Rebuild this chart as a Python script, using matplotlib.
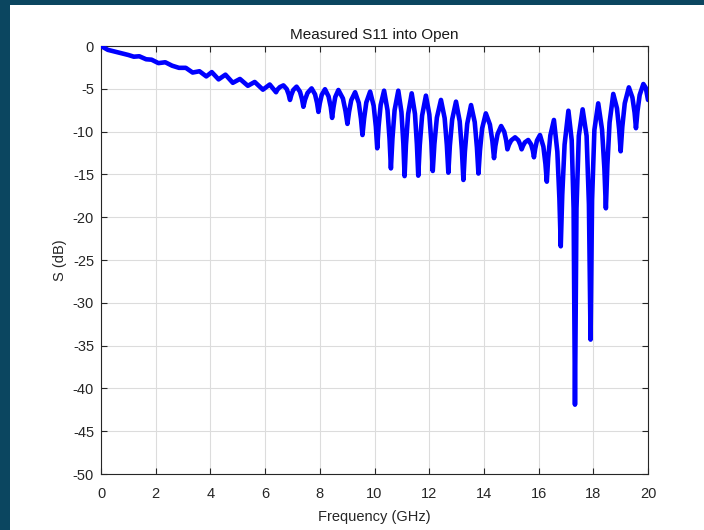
import matplotlib
matplotlib.use("Agg")
import matplotlib.pyplot as plt
from matplotlib.patches import Rectangle

freq_ghz = [0.0, 0.25, 0.5, 0.75, 1.0, 1.2, 1.4, 1.65, 1.85, 2.1, 2.35, 2.6, 2.85, 3.1,
            3.35, 3.6, 3.85, 4.05, 4.3, 4.55, 4.82, 5.08, 5.37, 5.62, 5.92, 6.17,
            6.4, 6.45, 6.54, 6.67, 6.79, 6.86,
            6.91, 6.96, 7.03, 7.15, 7.275, 7.35,
            7.4, 7.46, 7.55, 7.7, 7.825, 7.9,
            7.95, 8.0, 8.07, 8.19, 8.32, 8.4,
            8.45, 8.5, 8.565, 8.68, 8.845, 8.94,
            9.01, 9.07, 9.15, 9.29, 9.425, 9.505,
            9.56, 9.62, 9.7, 9.84, 9.97, 10.05,
            10.1, 10.15, 10.225, 10.35, 10.475, 10.55,
            10.6, 10.655, 10.735, 10.87, 10.985, 11.055,
            11.1, 11.15, 11.23, 11.36, 11.48, 11.55,
            11.6, 11.655, 11.74, 11.88, 12.005, 12.08,
            12.13, 12.19, 12.28, 12.43, 12.565, 12.645,
            12.7, 12.755, 12.84, 12.98, 13.115, 13.195,
            13.25, 13.305, 13.39, 13.53, 13.665, 13.745,
            13.8, 13.855, 13.935, 14.07, 14.22, 14.31,
            14.37, 14.42, 14.5, 14.63, 14.745, 14.815,
            14.86, 14.915, 15.0, 15.14, 15.26, 15.33,
            15.38, 15.43, 15.5, 15.62, 15.725, 15.79,
            15.83, 15.875, 15.94, 16.05, 16.175, 16.25,
            16.3, 16.35, 16.43, 16.56, 16.685, 16.76,
            16.81, 16.865, 16.95, 17.09, 17.21, 17.28,
            17.33, 17.385, 17.47, 17.61, 17.755, 17.84,
            17.9, 17.955, 18.04, 18.18, 18.32, 18.405,
            18.46, 18.515, 18.595, 18.73, 18.865, 18.945,
            19.0, 19.06, 19.15, 19.3, 19.43, 19.51,
            19.56, 19.615, 19.695, 19.83, 19.92, 20.0]
s11_db = [0.0, -0.45, -0.65, -0.85, -1.05, -1.25, -1.2, -1.55, -1.6, -2.0, -1.9, -2.3,
          -2.55, -2.55, -3.1, -2.95, -3.55, -3.05, -3.9, -3.35, -4.3, -3.85, -4.65, -4.2,
          -5.1, -4.5,
          -5.4, -5.1, -4.8, -4.6, -5.03, -5.65,
          -6.3, -5.71, -5.14, -4.75, -5.34, -6.21,
          -7.1, -6.28, -5.49, -4.95, -5.64, -6.66,
          -7.7, -6.69, -5.71, -5.05, -5.89, -7.13,
          -8.4, -7.16, -5.96, -5.14, -6.13, -7.6,
          -9.1, -7.69, -6.33, -5.4, -6.65, -8.5,
          -10.4, -8.47, -6.6, -5.33, -6.99, -9.43,
          -11.95, -9.39, -6.9, -5.22, -7.49, -10.85,
          -14.3, -10.85, -7.49, -5.22, -7.72, -11.41,
          -15.2, -11.53, -7.95, -5.53, -7.94, -11.49,
          -15.15, -11.6, -8.14, -5.8, -8.0, -11.26,
          -14.6, -11.45, -8.38, -6.3, -8.43, -11.57,
          -14.8, -11.65, -8.58, -6.5, -8.79, -12.17,
          -15.65, -12.33, -9.09, -6.9, -8.9, -11.86,
          -14.9, -12.23, -9.63, -7.87, -9.18, -11.11,
          -13.1, -11.68, -10.29, -9.35, -10.03, -11.04,
          -12.07, -11.54, -11.02, -10.67, -11.02, -11.54,
          -12.07, -11.66, -11.25, -10.98, -11.49, -12.23,
          -13.0, -12.01, -11.05, -10.4, -11.76, -13.78,
          -15.85, -13.11, -10.44, -8.64, -12.33, -17.79,
          -23.4, -17.38, -11.52, -7.56, -11.0, -19.0,
          -41.9, -19.0, -10.5, -7.4, -10.5, -18.5,
          -34.3, -18.0, -9.8, -6.7, -9.77, -14.3,
          -18.96, -13.88, -8.94, -5.6, -7.28, -9.75,
          -12.3, -9.46, -6.7, -4.83, -6.02, -7.79,
          -9.6, -7.64, -5.73, -4.44, -4.9, -6.3]

x_ticks = list(range(0, 21, 2))
y_ticks = list(range(-50, 1, 5))

plt.rcParams['font.family'] = ['Liberation Sans', 'DejaVu Sans']
plt.rcParams['axes.unicode_minus'] = False

fig = plt.figure(figsize=(7.04, 5.30), dpi=100)
fig.patch.set_facecolor('#0b4660')
fig.patches.append(Rectangle((10 / 704, 0), 1, 1 - 5 / 530, transform=fig.transFigure,
                             facecolor='white', edgecolor='none', zorder=-10))

ax = fig.add_axes([101 / 704, 1 - 474 / 530, 547 / 704, 428 / 530])
ax.set_zorder(1)
ax.plot(freq_ghz, s11_db, color='#0000ff', linewidth=3.3, solid_joinstyle='round',
        solid_capstyle='round', zorder=3)
ax.set_xlim(0, 20)
ax.set_ylim(-50, 0)
ax.set_xticks(x_ticks)
ax.set_yticks(y_ticks)
ax.grid(True, color='#dcdcdc', linewidth=0.8)
ax.set_axisbelow(True)
ax.tick_params(direction='in', top=True, right=True, length=4, width=0.8,
               colors='#262626', labelsize=10.5)
ax.tick_params(axis='x', pad=9)
ax.tick_params(axis='y', pad=5)
for sp in ax.spines.values():
    sp.set_color('#262626')
    sp.set_linewidth(0.8)
ax.set_title('Measured S11 into Open', fontsize=11, color='#1a1a1a', pad=5)
ax.set_xlabel('Frequency (GHz)', fontsize=10.5, color='#262626', labelpad=6.5)
ax.set_ylabel('S (dB)', fontsize=10.5, color='#262626', labelpad=4)

fig.savefig('out.png', dpi=100, facecolor=fig.get_facecolor())
